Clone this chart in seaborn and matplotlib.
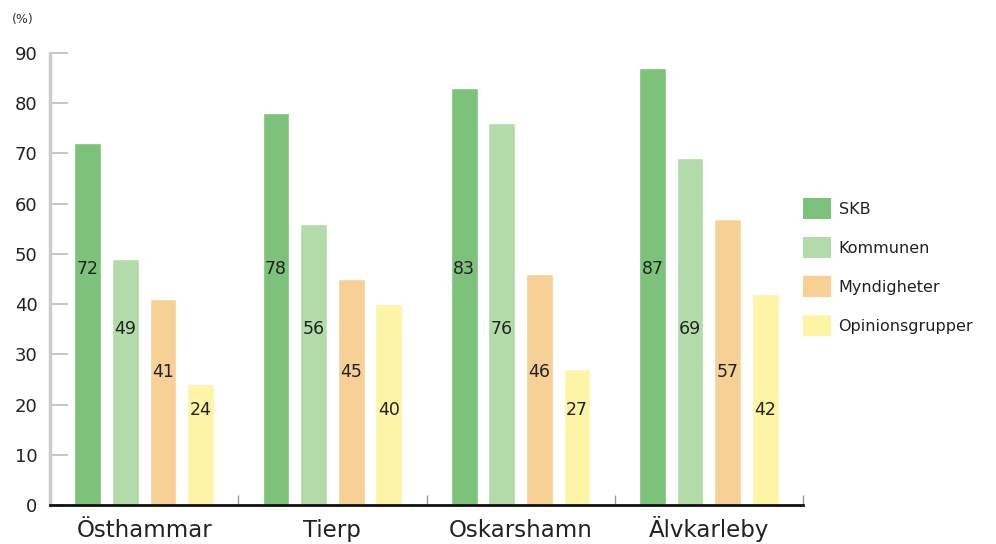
import matplotlib
matplotlib.use("Agg")
import matplotlib.pyplot as plt
import seaborn as sns
import pandas as pd
from matplotlib.patches import Patch

orter = ["Östhammar", "Tierp", "Oskarshamn", "Älvkarleby"]
grupper = ["SKB", "Kommunen", "Myndigheter", "Opinionsgrupper"]
skb = [72, 78, 83, 87]
kommunen = [49, 56, 76, 69]
myndigheter = [41, 45, 46, 57]
opinion = [24, 40, 27, 42]
etikett_hojd = [47, 35, 26.5, 19]
farger = ["#7cc27a", "#b2dba9", "#f7d095", "#fdf4a6"]
yticks = [0, 10, 20, 30, 40, 50, 60, 70, 80, 90]

serier = [skb, kommunen, myndigheter, opinion]
df = pd.DataFrame({
    "ort": [o for s in serier for o in orter],
    "grupp": [g for g, s in zip(grupper, serier) for _ in orter],
    "andel": [v for s in serier for v in s],
})

sns.set_theme(style="white")
plt.rcParams["font.family"] = ["DejaVu Sans"]

fig = plt.figure(figsize=(9.96, 5.44), dpi=100)
ax = fig.add_axes([50 / 996, 39 / 544, 753 / 996, (505 - 53) / 544])

sns.barplot(data=df, x="ort", y="andel", hue="grupp", order=orter,
            hue_order=grupper, palette=farger, width=0.8, gap=0.29,
            saturation=1, legend=False, ax=ax, errorbar=None)

# value labels inside bars, one fixed height per series
for j, (s, h) in enumerate(zip(serier, etikett_hojd)):
    for i, v in enumerate(s):
        x = i - 0.3 + 0.2 * j
        ax.text(x, h, str(v), ha="center", va="center", fontsize=12.5,
                color="#222222")

ax.set_xlim(-0.5, 3.5)
ax.set_ylim(0, 90)
ax.set_yticks(yticks)
ax.set_yticklabels([str(t) for t in yticks], fontsize=13, color="#222222")
ax.tick_params(axis="y", direction="in", length=13, width=1.2,
               color="#bbbbbb", pad=9, left=True)
ax.set_xticks(range(len(orter)))
ax.set_xticklabels(orter)
ax.tick_params(axis="x", length=0, pad=23, labelsize=16.5, labelcolor="#222222")
# shared baseline for the place names
for t in ax.get_xticklabels():
    t.set_verticalalignment("baseline")
ax.set_xticks([0.5, 1.5, 2.5, 3.5], minor=True)
ax.tick_params(axis="x", which="minor", direction="in", length=7,
               width=1, color="#999999", bottom=True)
ax.set_xlabel("")
ax.set_ylabel("")

for side in ["top", "right"]:
    ax.spines[side].set_visible(False)
ax.spines["left"].set_color("#cccccc")
ax.spines["left"].set_linewidth(2.5)
ax.spines["bottom"].set_color("#111111")
ax.spines["bottom"].set_linewidth(2)

fig.text(12 / 996, 1 - 20 / 544, "(%)", fontsize=9, color="#333333",
         va="center")

handles = [Patch(facecolor=c, edgecolor="none") for c in farger]
fig.legend(handles, grupper, loc="upper left",
           bbox_to_anchor=(797 / 996, 1 - 192 / 544), frameon=False,
           fontsize=11.5, handlelength=1.7, handleheight=1.6,
           handletextpad=0.5, labelspacing=1.15, borderaxespad=0,
           labelcolor="#222222")

fig.savefig("out.png", dpi=100)
